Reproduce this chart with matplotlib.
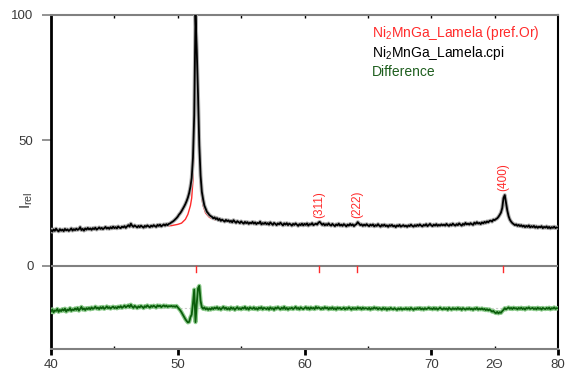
import numpy as np
import matplotlib
matplotlib.use('Agg')
import matplotlib.pyplot as plt

plt.rcParams['font.family'] = ['Liberation Sans', 'DejaVu Sans']
plt.rcParams['mathtext.default'] = 'regular'

# scan grid, 0.1 deg steps
two_theta = np.round(np.linspace(40, 80, 401), 1)

# observed intensity, one row per degree (x.0 ... x.9)
obs_rows = [
    [14.2, 13.6, 14.5, 13.9, 14.8, 14.1, 13.7, 14.6, 14.0, 14.4],
    [13.8, 14.7, 14.1, 14.5, 13.9, 14.3, 14.9, 14.0, 14.6, 14.2],
    [14.8, 14.3, 14.6, 15.4, 14.2, 14.7, 14.0, 14.9, 14.4, 15.1],
    [14.5, 14.9, 14.3, 15.0, 14.6, 15.2, 14.4, 14.8, 15.3, 14.7],
    [15.1, 14.6, 15.0, 15.5, 14.8, 15.2, 14.7, 15.4, 14.9, 15.6],
    [15.0, 15.4, 14.9, 15.7, 15.2, 15.0, 15.6, 15.3, 15.8, 15.1],
    [15.7, 16.2, 15.6, 16.8, 16.0, 15.5, 16.1, 15.7, 15.3, 15.9],
    [15.4, 16.0, 15.6, 15.2, 15.9, 15.5, 16.1, 15.7, 15.4, 16.0],
    [15.6, 16.2, 15.8, 15.5, 16.3, 15.9, 16.4, 15.7, 16.1, 16.5],
    [16.0, 16.6, 16.2, 16.7, 16.9, 17.3, 17.6, 18.0, 18.5, 19.0],
    [19.6, 20.4, 21.0, 21.8, 22.7, 23.6, 24.6, 25.8, 27.2, 29.0],
    [31.5, 35.0, 43.0, 60.0, 100.0, 86.0, 68.0, 48.0, 36.0, 29.5],
    [26.5, 24.0, 22.8, 21.5, 20.9, 20.2, 19.8, 19.5, 18.9, 19.3],
    [18.6, 19.0, 18.2, 18.7, 17.9, 18.4, 18.0, 17.6, 18.3, 17.8],
    [18.1, 17.5, 17.9, 17.3, 18.2, 17.6, 17.1, 17.8, 17.4, 17.0],
    [17.7, 17.2, 16.8, 17.5, 17.0, 17.4, 16.7, 17.2, 16.9, 17.5],
    [16.8, 17.3, 16.6, 17.1, 16.9, 17.6, 16.5, 17.0, 16.7, 17.2],
    [16.6, 17.0, 16.4, 17.3, 16.8, 16.3, 17.1, 16.7, 16.2, 16.9],
    [16.5, 17.2, 16.6, 16.1, 16.9, 16.4, 17.0, 16.2, 16.8, 16.5],
    [16.0, 16.7, 16.3, 16.9, 16.4, 15.9, 16.6, 16.2, 16.8, 16.1],
    [16.7, 16.3, 16.9, 16.0, 16.6, 16.4, 17.0, 16.2, 16.5, 16.8],
    [16.4, 17.2, 17.5, 16.9, 16.3, 16.8, 16.1, 16.6, 16.2, 16.9],
    [16.3, 16.0, 16.7, 16.2, 15.8, 16.5, 16.1, 16.8, 16.0, 16.4],
    [15.9, 16.6, 16.2, 15.7, 16.4, 16.0, 16.7, 16.1, 16.5, 15.8],
    [16.3, 16.6, 17.4, 16.8, 16.2, 16.5, 15.9, 16.4, 16.0, 16.6],
    [16.1, 15.8, 16.4, 16.0, 16.5, 15.7, 16.2, 15.9, 16.6, 16.0],
    [15.6, 16.3, 15.9, 16.4, 15.8, 16.1, 15.5, 16.2, 15.9, 16.3],
    [15.7, 16.0, 15.4, 16.1, 15.8, 16.3, 15.6, 15.9, 16.2, 15.7],
    [16.0, 15.5, 16.1, 15.8, 16.4, 15.9, 15.6, 16.2, 15.8, 16.3],
    [15.9, 16.5, 16.0, 15.7, 16.3, 16.0, 16.6, 15.8, 16.2, 16.7],
    [16.1, 15.8, 16.4, 16.0, 16.6, 15.9, 16.3, 16.0, 16.5, 16.1],
    [16.4, 16.0, 16.7, 16.2, 15.9, 16.5, 16.1, 16.8, 16.3, 16.0],
    [16.6, 16.2, 16.9, 16.4, 16.0, 16.7, 16.3, 17.1, 16.5, 16.8],
    [16.4, 17.0, 16.6, 16.3, 17.2, 16.7, 17.4, 16.8, 17.1, 16.6],
    [17.3, 16.9, 17.5, 17.1, 17.7, 17.3, 17.9, 18.0, 17.6, 18.4],
    [18.2, 18.6, 18.9, 19.5, 20.3, 21.2, 23.0, 27.0, 28.2, 25.0],
    [22.0, 19.8, 18.4, 17.6, 17.0, 16.6, 16.2, 16.5, 15.9, 16.3],
    [15.8, 16.2, 15.6, 16.0, 15.4, 15.9, 15.5, 16.1, 15.3, 15.8],
    [15.4, 15.9, 15.2, 15.7, 15.1, 15.6, 15.3, 15.8, 15.0, 15.5],
    [15.2, 15.7, 15.0, 15.5, 14.9, 15.4, 15.1, 15.6, 15.0, 15.3],
    [15.2],
]

# difference curve (already shifted down below zero line)
diff_rows = [
    [-18.2, -17.4, -18.6, -17.8, -18.0, -17.2, -18.4, -17.6, -18.1, -17.3],
    [-17.9, -17.1, -18.3, -17.5, -17.8, -16.9, -18.0, -17.4, -17.7, -17.0],
    [-17.6, -16.8, -17.9, -17.2, -16.4, -17.5, -17.0, -17.7, -16.9, -17.3],
    [-16.8, -17.4, -16.6, -17.2, -16.9, -16.3, -17.1, -16.7, -17.3, -16.5],
    [-17.0, -16.4, -17.2, -16.8, -16.2, -16.9, -16.5, -17.1, -16.6, -16.3],
    [-16.9, -16.5, -17.0, -16.3, -16.7, -16.1, -16.8, -16.4, -15.9, -16.6],
    [-16.2, -15.8, -16.5, -15.5, -16.3, -16.8, -16.0, -16.4, -16.9, -16.2],
    [-16.6, -16.0, -16.4, -16.9, -16.1, -16.5, -15.8, -16.3, -16.7, -16.0],
    [-16.4, -15.9, -16.3, -16.7, -15.8, -16.2, -15.9, -16.5, -16.1, -15.8],
    [-16.3, -15.9, -16.4, -16.1, -16.2, -16.0, -16.3, -16.1, -16.4, -16.0],
    [-16.6, -17.2, -17.8, -18.6, -19.5, -20.4, -21.3, -22.0, -22.6, -22.4],
    [-20.5, -19.5, -15.0, -9.5, -22.5, -15.0, -9.0, -8.0, -14.0, -16.5],
    [-17.2, -16.6, -17.4, -16.9, -17.6, -17.0, -17.5, -16.8, -17.3, -16.7],
    [-17.1, -16.5, -17.3, -16.8, -17.5, -16.9, -16.4, -17.2, -16.7, -17.4],
    [-16.9, -17.5, -16.6, -17.2, -16.8, -17.6, -17.0, -16.5, -17.3, -16.9],
    [-17.4, -16.7, -17.1, -16.4, -17.3, -16.8, -17.5, -16.6, -17.0, -17.2],
    [-16.6, -17.3, -16.9, -17.5, -16.7, -17.1, -16.5, -17.4, -16.8, -17.0],
    [-17.3, -16.8, -17.5, -16.6, -17.2, -16.9, -17.6, -16.7, -17.1, -16.5],
    [-17.0, -17.4, -16.7, -17.2, -16.4, -17.3, -16.8, -17.5, -16.9, -17.1],
    [-16.7, -17.3, -16.9, -16.4, -17.2, -16.8, -17.4, -16.6, -17.0, -17.3],
    [-16.9, -16.5, -17.2, -16.7, -17.4, -16.6, -17.1, -16.8, -17.3, -16.4],
    [-17.0, -16.6, -16.9, -17.3, -16.8, -17.2, -16.5, -17.0, -16.7, -17.4],
    [-16.8, -17.2, -16.6, -17.3, -16.9, -17.5, -16.7, -17.1, -16.8, -17.3],
    [-17.1, -16.7, -17.4, -16.9, -17.2, -16.6, -17.0, -17.5, -16.8, -17.2],
    [-16.9, -17.3, -16.6, -17.1, -16.8, -17.4, -16.7, -17.2, -16.9, -17.0],
    [-17.3, -16.8, -17.5, -16.9, -17.2, -16.6, -17.1, -16.8, -17.4, -16.9],
    [-17.1, -17.5, -16.8, -17.3, -16.9, -17.6, -17.0, -17.4, -16.8, -17.2],
    [-17.4, -16.9, -17.3, -17.6, -17.0, -17.4, -16.9, -17.5, -17.1, -17.3],
    [-16.9, -17.4, -17.0, -17.5, -16.8, -17.2, -17.6, -17.0, -17.3, -16.9],
    [-17.2, -16.8, -17.4, -17.0, -17.5, -16.9, -17.3, -17.1, -16.7, -17.2],
    [-17.0, -17.4, -16.8, -17.3, -16.9, -17.5, -17.1, -16.7, -17.2, -17.4],
    [-16.9, -17.3, -17.0, -17.6, -16.8, -17.2, -17.5, -16.9, -17.3, -17.0],
    [-17.4, -16.8, -17.3, -17.0, -17.6, -16.9, -17.2, -17.5, -17.0, -17.3],
    [-16.9, -17.4, -17.1, -17.6, -17.0, -17.3, -16.8, -17.5, -17.1, -17.4],
    [-17.0, -17.5, -17.2, -17.7, -17.3, -17.8, -17.4, -17.9, -18.3, -18.0],
    [-18.6, -18.9, -18.4, -19.0, -18.5, -18.8, -18.1, -17.6, -16.9, -17.4],
    [-17.0, -16.6, -17.2, -16.8, -17.3, -16.7, -17.1, -16.9, -17.4, -16.8],
    [-17.2, -16.7, -17.3, -16.9, -17.5, -16.8, -17.1, -16.6, -17.2, -17.0],
    [-16.8, -17.3, -16.9, -17.4, -16.7, -17.2, -16.9, -17.5, -16.8, -17.1],
    [-17.3, -16.8, -17.2, -16.7, -17.4, -16.9, -17.1, -16.6, -17.2, -16.9],
    [-17.0],
]

# calculated profile (smooth)
calc_tt = [40, 44, 48, 49, 49.5, 50, 50.3, 50.6, 50.8, 51.0, 51.1, 51.2, 51.3,
           51.35, 51.4, 51.45, 51.5, 51.6, 51.7, 51.8, 51.9, 52.0, 52.2, 52.5,
           53, 54, 56, 60, 61.0, 61.14, 61.3, 64.0, 64.18, 64.35, 70, 74, 74.8,
           75.2, 75.4, 75.55, 75.67, 75.78, 75.95, 76.2, 76.6, 78, 80]
calc_int = [14.1, 14.9, 15.7, 15.8, 16.0, 16.5, 17.0, 18.5, 20.5, 24.0, 27.0,
            34.0, 52.0, 72.0, 96.0, 101.0, 88.0, 64.0, 44.0, 33.0, 27.0, 24.0,
            21.0, 19.3, 18.2, 17.5, 16.9, 16.4, 16.5, 17.0, 16.5, 16.3, 16.9,
            16.3, 16.2, 17.0, 18.0, 19.0, 20.5, 23.0, 26.5, 27.8, 23.0, 18.5,
            16.4, 15.6, 15.2]

# reflections
hkl = ['(220)', '(311)', '(222)', '(400)']
refl_pos = [51.41, 61.14, 64.18, 75.67]

legend_labels = ['Ni$_2$MnGa_Lamela (pref.Or)', 'Ni$_2$MnGa_Lamela.cpi', 'Difference']

obs = np.concatenate([np.array(r) for r in obs_rows])
diff = np.concatenate([np.array(r) for r in diff_rows])

red = '#ff2b2b'
green = '#0b5e0b'
grey = '#808080'
txt = '#3a3a3a'

fig = plt.figure(figsize=(5.65, 3.74), dpi=100)
ax = fig.add_axes([51 / 565, 25 / 374, 507 / 565, 334 / 374])

ax.plot(calc_tt, calc_int, color=red, lw=1.0, zorder=2)
ax.plot(two_theta, obs, color='#b0b0b0', lw=2.8, zorder=3)
ax.plot(two_theta, obs, color='black', lw=1.3, zorder=4)

ax.axhline(-16.8, color='#cccccc', lw=0.8, ls=(0, (2, 2)), zorder=1)
ax.plot(two_theta, diff, color='#8fcc8f', lw=3.0, zorder=3)
ax.plot(two_theta, diff, color=green, lw=1.3, zorder=4)

ax.axhline(0, color=grey, lw=1.5, zorder=5)

# reflection marks and labels
for lab, pos in zip(hkl, refl_pos):
    ax.plot([pos, pos], [0, -2.4], color=red, lw=1, zorder=6)
    near = np.abs(two_theta - pos) <= 0.15
    ytxt = obs[near].max() + 1.5
    if ytxt < 90:
        ax.text(pos, ytxt, lab, rotation=90, color=red, fontsize=8.5,
                ha='center', va='bottom')

# legend as coloured text
for lab, col, y in zip(legend_labels, [red, 'black', '#1e5e1e'], [92.8, 84.9, 77.2]):
    ax.text(65.33, y, lab, color=col, fontsize=10, va='center', ha='left')

ax.set_xlim(40, 80)
ax.set_ylim(-33.2, 100)

ax.spines['left'].set_linewidth(2)
ax.spines['left'].set_color('black')
ax.spines['right'].set_linewidth(1.5)
ax.spines['right'].set_color('black')
ax.spines['top'].set_color(grey)
ax.spines['top'].set_linewidth(1.5)
ax.spines['bottom'].set_color(grey)
ax.spines['bottom'].set_linewidth(1.5)

ax.set_yticks([0, 50, 100])
ax.tick_params(axis='y', direction='out', length=6.5, width=1.2, color=grey,
               labelsize=9.5, labelcolor=txt, pad=6)

ax.set_xticks([40, 50, 60, 70, 80])
ax.set_xticks([45, 55, 65, 75], labels=['', '', '', '2\u0398'], minor=True)
ax.tick_params(axis='x', which='major', direction='out', length=4.5, width=2,
               color='black', labelsize=9.5, labelcolor=txt, pad=3, top=False)
ax.tick_params(axis='x', which='minor', direction='in', length=2.5, width=1,
               color='black', labelsize=9.5, labelcolor=txt, pad=7.5, top=False)

top = ax.secondary_xaxis('top')
top.set_xticks([45, 50, 55, 60, 65, 70, 75])
top.tick_params(direction='in', length=2.5, width=1, color='black', labeltop=False)
top.spines['top'].set_visible(False)

ax.text(-0.047, 26.2, 'I$_{rel}$', rotation=90, fontsize=11, color=txt,
        ha='center', va='center', transform=ax.get_yaxis_transform())

fig.savefig('out.png', dpi=100)
